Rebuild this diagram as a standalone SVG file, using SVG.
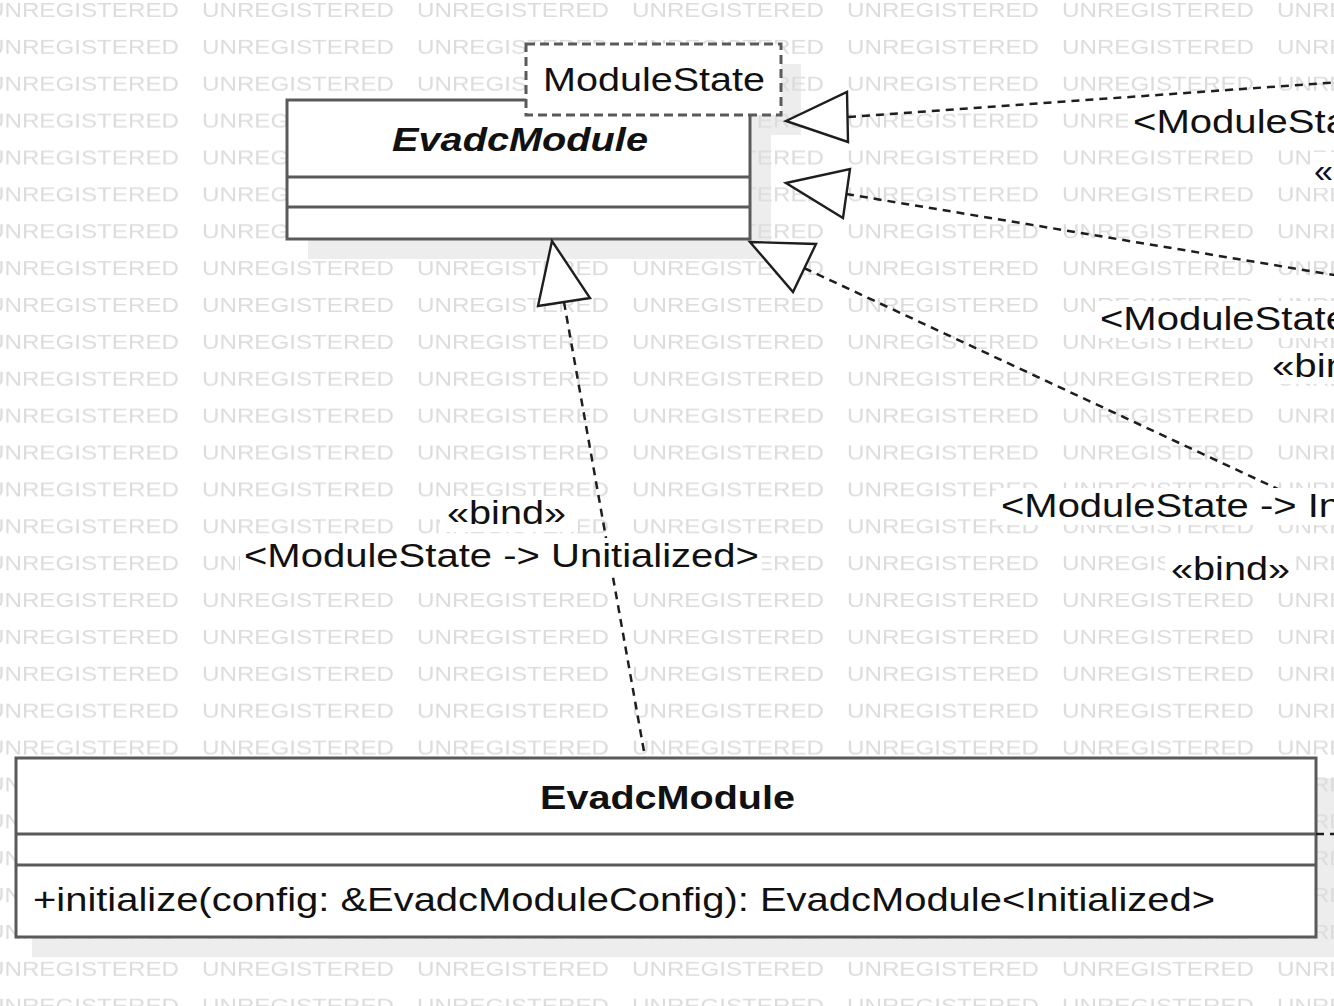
<svg xmlns="http://www.w3.org/2000/svg" width="1334" height="1006" viewBox="0 0 1334 1006">
<defs>
<style>
.wm{font-family:"Liberation Sans",Arial,sans-serif;font-size:20px;fill:#dcdcdc;}
.box{fill:#ffffff;stroke:#5a5a5a;stroke-width:3;}
.sep{stroke:#5a5a5a;stroke-width:3;fill:none;}
.param{fill:#ffffff;stroke:#5a5a5a;stroke-width:3;stroke-dasharray:9 5;}
.shadow{fill:#ededed;}
.t{font-family:"Liberation Sans",Arial,sans-serif;font-size:34px;fill:#111111;}
.b{font-weight:bold;}
.i{font-style:italic;}
.dash{stroke:#1e1e1e;stroke-width:2.5;fill:none;stroke-dasharray:8 6;}
.head{fill:#ffffff;stroke:#1e1e1e;stroke-width:2.4;stroke-linejoin:miter;}
.lbg{fill:#ffffff;}
</style>
<pattern id="wm" patternUnits="userSpaceOnUse" x="-13" y="0" width="215" height="36.88">
<text class="wm" x="0" y="17" textLength="192" lengthAdjust="spacingAndGlyphs">UNREGISTERED</text>
</pattern>
</defs>
<rect x="0" y="0" width="1334" height="1006" fill="#ffffff"/>
<g id="shadows">
<rect class="shadow" x="308" y="120" width="463" height="139"/>
<rect class="shadow" x="546" y="64" width="255" height="71"/>
<rect class="shadow" x="32" y="778" width="1304" height="179"/>
</g>
<rect x="0" y="0" width="1334" height="1006" fill="url(#wm)"/>
<g id="node-evadcmodule-template">
<rect class="box" x="287" y="100" width="463" height="139"/>
<line class="sep" x1="287" y1="177" x2="750" y2="177"/>
<line class="sep" x1="287" y1="207" x2="750" y2="207"/>
<text class="t b i" x="392" y="151" textLength="256" lengthAdjust="spacingAndGlyphs">EvadcModule</text>
</g>
<g id="node-modulestate-param">
<rect class="param" x="526" y="44" width="255" height="71"/>
<text class="t" x="543" y="91" textLength="222" lengthAdjust="spacingAndGlyphs">ModuleState</text>
</g>
<g id="node-evadcmodule-bound">
<rect class="box" x="16" y="758" width="1300" height="179"/>
<line class="sep" x1="16" y1="834" x2="1316" y2="834"/>
<line class="sep" x1="16" y1="865" x2="1316" y2="865"/>
<text class="t b" x="540" y="809" textLength="255" lengthAdjust="spacingAndGlyphs">EvadcModule</text>
<text class="t" x="33" y="911" textLength="1182" lengthAdjust="spacingAndGlyphs">+initialize(config: &amp;EvadcModuleConfig): EvadcModule&lt;Initialized&gt;</text>
</g>
<g id="connectors">
<line class="dash" x1="848" y1="117" x2="1340" y2="82"/>
<line class="dash" x1="846" y1="194" x2="1340" y2="276"/>
<line class="dash" x1="804" y1="268" x2="1340" y2="518"/>
<line class="dash" x1="564" y1="302" x2="645" y2="757"/>
<line class="dash" x1="1316" y1="834" x2="1340" y2="834"/>
<polygon class="head" points="786,121 847,92 848,142"/>
<polygon class="head" points="786,183 850,169 843,218"/>
<polygon class="head" points="750,242 816,244 793,292"/>
<polygon class="head" points="552,241 538,306 590,298"/>
</g>
<g id="labels">
<rect class="lbg" x="440" y="496" width="138" height="36"/>
<text class="t" x="447" y="524" textLength="119" lengthAdjust="spacingAndGlyphs">«bind»</text>
<rect class="lbg" x="240" y="538" width="522" height="38"/>
<text class="t" x="244" y="567" textLength="515" lengthAdjust="spacingAndGlyphs">&lt;ModuleState -&gt; Unitialized&gt;</text>
<rect class="lbg" x="1128" y="104" width="210" height="37"/>
<text class="t" x="1133" y="133" textLength="215" lengthAdjust="spacingAndGlyphs">&lt;ModuleSta</text>
<rect class="lbg" x="1310" y="152" width="30" height="36"/>
<text class="t" x="1314" y="182" textLength="19" lengthAdjust="spacingAndGlyphs">«</text>
<rect class="lbg" x="1095" y="301" width="245" height="37"/>
<text class="t" x="1100" y="330" textLength="248" lengthAdjust="spacingAndGlyphs">&lt;ModuleState</text>
<rect class="lbg" x="1266" y="348" width="74" height="36"/>
<text class="t" x="1272" y="377" textLength="76" lengthAdjust="spacingAndGlyphs">«bin</text>
<rect class="lbg" x="996" y="488" width="344" height="37"/>
<text class="t" x="1001" y="517" textLength="340" lengthAdjust="spacingAndGlyphs">&lt;ModuleState -&gt; In</text>
<rect class="lbg" x="1165" y="551" width="131" height="36"/>
<text class="t" x="1171" y="580" textLength="119" lengthAdjust="spacingAndGlyphs">«bind»</text>
</g>
</svg>
